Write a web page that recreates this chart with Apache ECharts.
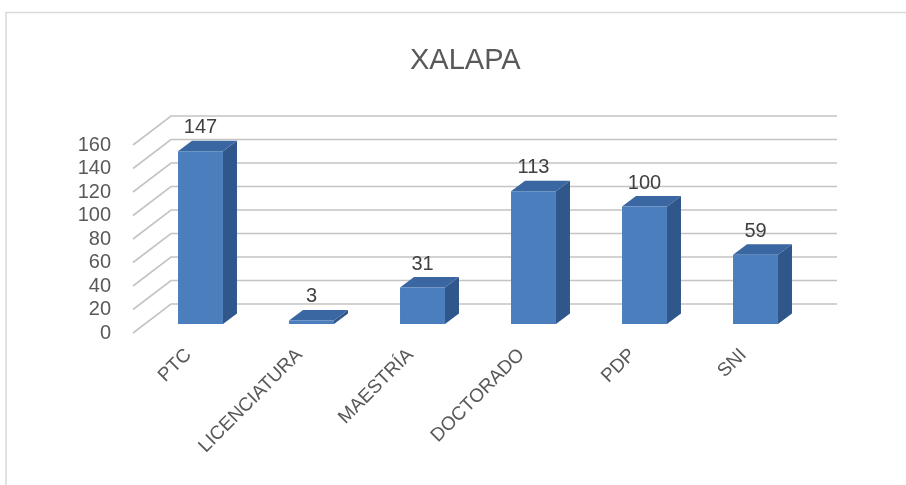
<!DOCTYPE html>
<html>
<head>
<meta charset="utf-8">
<script src="https://cdn.jsdelivr.net/npm/echarts@6/dist/echarts.min.js"></script>
<style>html,body{margin:0;padding:0;background:#fff;}#c{width:906px;height:485px;}</style>
</head>
<body>
<div id="c"></div>
<script>
var categories = ['PTC', 'LICENCIATURA', 'MAESTRÍA', 'DOCTORADO', 'PDP', 'SNI'];
var values = [147, 3, 31, 113, 100, 59];
var yTicks = [0, 20, 40, 60, 80, 100, 120, 140, 160];

var FLOOR = [38, -29];   // depth of the whole plot (front edge -> back wall)
var OFF = [12, -9];      // bar front face offset from the front edge
var DEP = [14, -10.5];   // bar depth
var FONT = '"Liberation Sans", Arial, sans-serif';

var chart = echarts.init(document.getElementById('c'), null, {renderer: 'canvas'});

function gridItem(params, api) {
  var cs = params.coordSys;
  var v = api.value(0);
  var y = api.coord([0, v])[1];
  var x0 = cs.x, x1 = cs.x + FLOOR[0], x2 = cs.x + cs.width + FLOOR[0];
  var yb = y + FLOOR[1];
  return {
    type: 'polyline',
    shape: {points: [[x0, y], [x1, yb], [x2, yb]]},
    style: {stroke: '#c4c4c4', lineWidth: 1.6, fill: null},
    silent: true
  };
}

function barItem(params, api) {
  var i = api.value(0), v = api.value(1);
  var top = api.coord([i, v]);
  var base = api.coord([i, 0]);
  var w = api.size([1, 0])[0] * 0.405;
  var cx = top[0] + OFF[0];
  var xl = cx - w / 2, xr = cx + w / 2;
  var yt = top[1] + OFF[1], yb = base[1] + OFF[1];
  var dx = DEP[0], dy = DEP[1];
  return {
    type: 'group',
    children: [
      {type: 'polygon', shape: {points: [[xr, yt], [xr + dx, yt + dy], [xr + dx, yb + dy], [xr, yb]]},
        style: {fill: '#30578b'}},
      {type: 'polygon', shape: {points: [[xl, yt], [xl + dx, yt + dy], [xr + dx, yt + dy], [xr, yt]]},
        style: {fill: '#3a66a2'}},
      {type: 'rect', shape: {x: xl, y: yt, width: w, height: yb - yt},
        style: {fill: '#4a7ebd'}},
      {type: 'text', style: {text: String(v), x: cx, y: yt + dy - 3, align: 'center', verticalAlign: 'bottom',
        fill: '#404040', font: '20px ' + FONT}}
    ]
  };
}

chart.setOption({
  animation: false,
  backgroundColor: '#ffffff',
  title: {
    text: 'XALAPA', left: 405, top: 41,
    textStyle: {fontFamily: FONT, fontSize: 29, fontWeight: 'normal', color: '#595959'}
  },
  graphic: [{
    type: 'rect', shape: {x: 6, y: 12.5, width: 1000, height: 1000},
    style: {fill: null, stroke: '#d9d9d9', lineWidth: 1.5}, silent: true, z: -10
  }],
  grid: {left: 133, right: 107, top: 145, bottom: 152},
  xAxis: {
    type: 'category', data: categories,
    axisLine: {show: false}, axisTick: {show: false},
    axisLabel: {rotate: 45, margin: 19, color: '#595959', fontFamily: FONT, fontSize: 19, interval: 0}
  },
  yAxis: {
    type: 'value', min: 0, max: 160, interval: 20,
    splitLine: {show: false}, axisLine: {show: false}, axisTick: {show: false},
    axisLabel: {margin: 22, color: '#595959', fontFamily: FONT, fontSize: 20}
  },
  series: [
    {type: 'custom', renderItem: gridItem, data: yTicks.map(function (t) { return [t]; }),
      encode: {y: 0}, silent: true, z: 1, clip: false},
    {type: 'custom', renderItem: barItem, data: values.map(function (v, i) { return [i, v]; }),
      encode: {x: 0, y: 1}, z: 2, clip: false}
  ]
});
</script>
</body>
</html>
